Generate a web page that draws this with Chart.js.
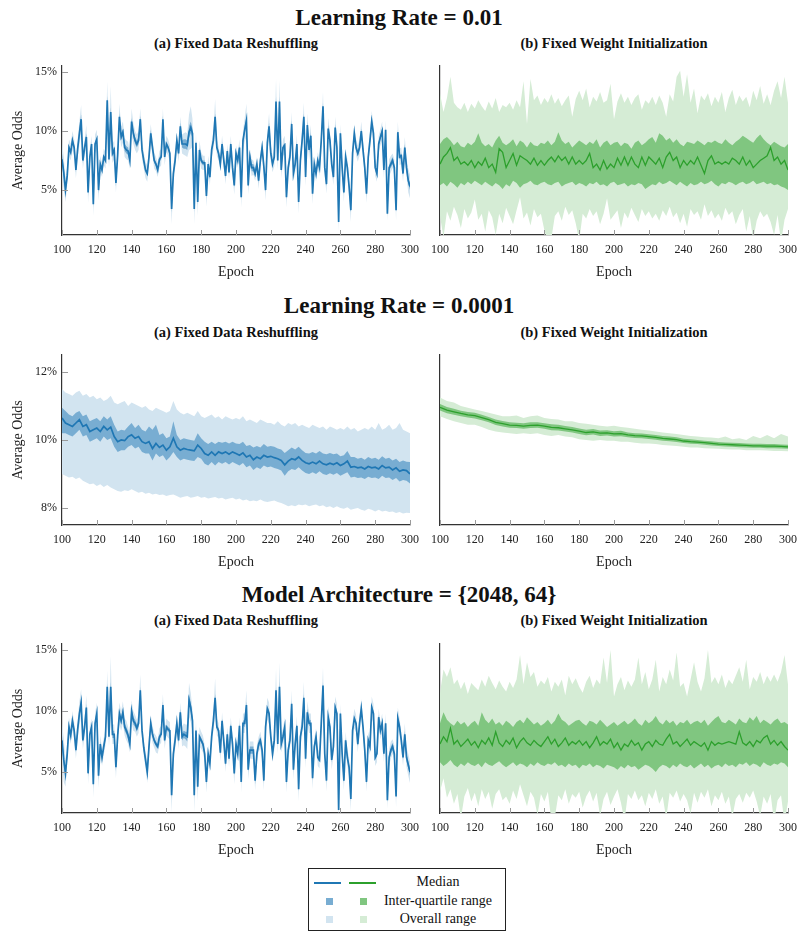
<!DOCTYPE html>
<html>
<head>
<meta charset="utf-8">
<script src="https://cdn.jsdelivr.net/npm/chart.js@4.4.0/dist/chart.umd.min.js"></script>
<style>
  body { margin: 0; background: #fff; width: 798px; height: 932px; position: relative; overflow: hidden;
         font-family: 'Liberation Serif', 'DejaVu Serif', serif; color: #111; }
  .title { position: absolute; left: 0; width: 798px; text-align: center; font-weight: bold; font-size: 23px; line-height: 23px; }
  .sub { position: absolute; width: 348px; text-align: center; font-weight: bold; font-size: 14.5px; line-height: 15px; }
  canvas { position: absolute; }
  #legend { position: absolute; left: 308px; top: 868px; width: 196px; height: 61px; border: 1px solid #222; }
  #legend div { position: absolute; }
  .ltxt { left: 49px; width: 160px; text-align: center; font-size: 14px; line-height: 16px; }
  .sw { width: 7px; height: 7px; }
</style>
</head>
<body>

<div class="title" style="top:6px">Learning Rate = 0.01</div>
<div class="sub" style="left:62px;top:36px">(a) Fixed Data Reshuffling</div>
<div class="sub" style="left:440px;top:36px">(b) Fixed Weight Initialization</div>
<canvas id="c1a" width="425" height="230" style="left:0;top:56px"></canvas>
<canvas id="c1b" width="376" height="230" style="left:425px;top:56px"></canvas>

<div class="title" style="top:294px">Learning Rate = 0.0001</div>
<div class="sub" style="left:62px;top:325px">(a) Fixed Data Reshuffling</div>
<div class="sub" style="left:440px;top:325px">(b) Fixed Weight Initialization</div>
<canvas id="c2a" width="425" height="231" style="left:0;top:345px"></canvas>
<canvas id="c2b" width="376" height="231" style="left:425px;top:345px"></canvas>

<div class="title" style="top:583px">Model Architecture = {2048, 64}</div>
<div class="sub" style="left:62px;top:613px">(a) Fixed Data Reshuffling</div>
<div class="sub" style="left:440px;top:613px">(b) Fixed Weight Initialization</div>
<canvas id="c3a" width="425" height="230" style="left:0;top:634px"></canvas>
<canvas id="c3b" width="376" height="230" style="left:425px;top:634px"></canvas>

<div id="legend">
  <div style="left:5px;top:13px;width:27px;height:1.5px;background:#1f77b4"></div>
  <div style="left:40px;top:13px;width:27px;height:1.5px;background:#2ca02c"></div>
  <div class="sw" style="left:17px;top:29px;background:#78add2"></div>
  <div class="sw" style="left:51px;top:29px;background:#80c680"></div>
  <div class="sw" style="left:17px;top:47px;background:#d2e4f0"></div>
  <div class="sw" style="left:51px;top:47px;background:#d5ecd5"></div>
  <div class="ltxt" style="top:5px">Median</div>
  <div class="ltxt" style="top:24px">Inter-quartile range</div>
  <div class="ltxt" style="top:42px">Overall range</div>
</div>

<script>
const xTicks = [100, 120, 140, 160, 180, 200, 220, 240, 260, 280, 300];
const yTicksWide = [5, 10, 15];
const yTicksNarrow = [8, 10, 12];

// Learning rate 0.01, fixed data reshuffling (every epoch)
const a1Median = [
  7.6, 6.5, 5.0, 6.2, 8.6, 8.2, 9.2, 8.6, 6.7, 8.5,
  9.8, 11.0, 7.5, 8.6, 9.5, 4.8, 7.8, 8.9, 3.8, 8.9,
  9.3, 5.0, 7.2, 6.7, 7.8, 7.5, 12.6, 7.6, 11.6, 8.1,
  8.4, 5.6, 8.0, 11.2, 9.5, 9.9, 8.6, 8.4, 8.3, 7.5,
  10.8, 9.8, 9.2, 8.9, 9.2, 11.0, 8.4, 7.5, 6.7, 6.4,
  7.8, 9.8, 8.6, 7.5, 7.2, 6.7, 7.6, 7.8, 11.0, 7.8,
  8.9, 8.6, 8.1, 3.4, 6.4, 7.5, 9.2, 8.1, 10.4, 8.9,
  8.9, 8.9, 8.8, 9.9, 10.3, 9.8, 3.4, 9.0, 4.0, 8.4,
  7.5, 7.3, 7.3, 4.5, 7.2, 6.1, 8.4, 9.2, 11.2, 8.6,
  8.1, 7.2, 8.9, 7.5, 6.2, 8.3, 6.5, 8.9, 6.9, 5.4,
  8.1, 7.5, 8.6, 4.4, 9.2, 10.1, 10.9, 5.4, 7.8, 6.9,
  6.9, 6.4, 7.2, 5.8, 7.5, 8.6, 7.0, 5.0, 9.0, 10.4,
  8.1, 7.2, 7.8, 12.5, 7.5, 12.5, 6.7, 8.6, 8.8, 4.4,
  6.9, 7.8, 10.6, 6.4, 7.2, 8.9, 4.0, 7.5, 9.2, 11.2,
  6.1, 10.5, 8.4, 9.6, 4.7, 7.2, 6.4, 7.5, 6.9, 9.2,
  12.1, 6.9, 5.5, 10.2, 9.2, 7.2, 6.1, 10.3, 8.6, 2.3,
  9.8, 6.9, 4.8, 7.8, 6.9, 5.3, 3.3, 8.1, 9.8, 8.6,
  8.1, 8.6, 10.0, 8.4, 6.9, 4.7, 7.8, 9.2, 10.8, 9.8,
  6.9, 6.4, 8.9, 9.5, 10.0, 6.7, 10.1, 3.0, 6.9, 7.2,
  7.5, 6.9, 3.3, 9.9, 7.8, 7.9, 6.4, 8.6, 6.9, 5.8,
  5.3
];
const a1IqrHalf = [
  0.5, 0.4, 0.3, 0.3, 0.2, 0.2, 0.3, 0.2, 0.2, 0.3,
  0.3, 0.4, 0.2, 0.2, 0.3, 0.3, 0.2, 0.2, 0.3, 0.2,
  0.2, 0.3, 0.2, 0.2, 0.2, 0.2, 0.4, 0.3, 0.4, 0.3,
  0.3, 0.3, 0.3, 0.3, 0.3, 0.3, 0.3, 0.3, 0.3, 0.2,
  0.3, 0.3, 0.3, 0.3, 0.3, 0.3, 0.2, 0.2, 0.2, 0.2,
  0.2, 0.3, 0.2, 0.2, 0.2, 0.2, 0.2, 0.2, 0.3, 0.2,
  0.2, 0.2, 0.2, 0.3, 0.2, 0.2, 0.2, 0.2, 0.3, 0.3,
  0.4, 0.4, 0.4, 0.5, 0.5, 0.4, 0.3, 0.3, 0.3, 0.2,
  0.2, 0.2, 0.2, 0.2, 0.2, 0.2, 0.2, 0.2, 0.3, 0.2,
  0.2, 0.2, 0.2, 0.2, 0.2, 0.2, 0.2, 0.2, 0.2, 0.2,
  0.2, 0.2, 0.2, 0.2, 0.2, 0.3, 0.3, 0.2, 0.3, 0.3,
  0.3, 0.3, 0.2, 0.2, 0.2, 0.2, 0.2, 0.2, 0.2, 0.3,
  0.2, 0.2, 0.2, 0.4, 0.2, 0.4, 0.2, 0.2, 0.2, 0.2,
  0.2, 0.2, 0.3, 0.2, 0.2, 0.2, 0.2, 0.2, 0.2, 0.3,
  0.2, 0.3, 0.2, 0.3, 0.2, 0.2, 0.2, 0.2, 0.2, 0.2,
  0.3, 0.2, 0.2, 0.3, 0.2, 0.2, 0.2, 0.3, 0.2, 0.2,
  0.2, 0.2, 0.2, 0.2, 0.2, 0.2, 0.2, 0.2, 0.2, 0.2,
  0.2, 0.2, 0.2, 0.2, 0.2, 0.2, 0.2, 0.2, 0.3, 0.2,
  0.2, 0.2, 0.2, 0.2, 0.2, 0.2, 0.2, 0.2, 0.2, 0.3,
  0.3, 0.2, 0.2, 0.2, 0.2, 0.2, 0.2, 0.3, 0.3, 0.3,
  0.3
];
const a1RangeHalf = [
  1.5, 1.3, 1.0, 0.8, 0.7, 0.7, 0.8, 0.7, 0.7, 0.8,
  1.0, 1.2, 0.7, 0.7, 1.0, 0.9, 0.7, 0.7, 1.0, 0.8,
  0.8, 0.9, 0.7, 0.6, 0.7, 0.7, 1.6, 0.8, 2.2, 0.8,
  0.8, 0.8, 0.8, 1.1, 0.9, 0.9, 0.8, 0.8, 0.8, 0.7,
  1.1, 0.9, 0.8, 0.8, 0.8, 0.9, 0.8, 0.7, 0.7, 0.7,
  0.7, 0.8, 0.7, 0.7, 0.6, 0.6, 0.7, 0.7, 0.9, 0.7,
  0.7, 0.7, 0.7, 1.3, 0.8, 0.7, 0.7, 0.7, 0.8, 0.8,
  0.9, 1.0, 1.0, 1.5, 1.8, 1.2, 1.3, 0.8, 1.2, 0.8,
  0.7, 0.6, 0.6, 0.9, 0.7, 0.7, 0.7, 0.8, 1.5, 0.7,
  0.6, 0.6, 0.7, 0.6, 0.7, 0.6, 0.6, 0.7, 0.6, 0.8,
  0.7, 0.6, 0.7, 0.9, 0.8, 1.0, 1.4, 0.8, 0.7, 0.7,
  0.6, 0.6, 0.6, 0.7, 0.6, 0.6, 0.7, 0.9, 0.8, 1.1,
  0.7, 0.7, 0.8, 1.9, 0.8, 1.8, 0.7, 0.7, 0.8, 0.9,
  0.7, 0.7, 1.0, 0.7, 0.7, 0.8, 1.0, 0.7, 0.8, 1.2,
  0.8, 1.0, 0.8, 0.9, 0.9, 0.7, 0.7, 0.7, 0.7, 0.8,
  1.2, 0.7, 0.8, 0.9, 0.7, 0.7, 0.7, 0.9, 0.8, 0.8,
  0.8, 0.7, 0.8, 0.7, 0.7, 0.8, 1.0, 0.7, 0.8, 0.7,
  0.7, 0.7, 0.8, 0.7, 0.7, 0.8, 0.7, 0.7, 0.9, 0.8,
  0.7, 0.7, 0.7, 0.7, 0.8, 0.7, 0.8, 0.6, 0.7, 0.7,
  0.6, 0.7, 0.9, 0.9, 0.7, 0.7, 0.7, 0.9, 0.8, 1.0,
  1.0
];

// Learning rate 0.01, fixed weight initialization (every 2 epochs)
const b1Median = [
  7.2, 7.8, 8.1, 8.6, 7.5, 7.8, 7.2, 7.4, 7.1, 7.5,
  6.9, 7.4, 7.1, 7.7, 6.9, 7.2, 6.5, 8.5, 8.2, 6.9,
  7.5, 8.1, 7.1, 7.9, 7.7, 7.5, 7.2, 7.7, 7.1, 7.5,
  7.1, 7.5, 7.8, 7.4, 7.9, 7.5, 7.8, 7.2, 7.8, 7.2,
  7.5, 7.2, 7.5, 8.1, 6.9, 7.2, 6.7, 7.5, 6.8, 7.2,
  6.9, 7.7, 7.1, 7.8, 7.1, 7.8, 7.2, 6.9, 7.8, 7.1,
  7.8, 7.5, 7.2, 7.7, 6.9, 7.8, 8.2, 7.5, 7.8, 6.9,
  7.5, 7.1, 7.5, 7.2, 7.8, 7.1, 6.4, 7.5, 7.9, 7.2,
  7.4, 7.2, 7.4, 7.2, 7.7, 7.5, 7.2, 7.8, 7.1, 7.5,
  6.9, 7.2, 7.5, 7.7, 7.9, 8.6, 7.5, 7.8, 7.2, 7.5,
  6.7
];
const b1Q3 = [
  8.9, 9.3, 9.5, 9.2, 8.8, 9.1, 8.7, 8.6, 9.0, 8.8,
  9.1, 9.8, 9.0, 8.7, 8.9, 8.6, 9.2, 9.6, 9.0, 8.8,
  9.0, 9.3, 8.7, 9.2, 9.0, 8.6, 9.1, 8.8, 8.7, 9.0,
  8.9, 9.2, 8.8, 9.1, 9.9, 9.2, 8.9, 9.1, 8.6, 8.9,
  9.2, 9.0, 8.8, 9.1, 8.9, 9.3, 8.6, 9.0, 9.2, 8.8,
  9.0, 9.1, 8.7, 9.0, 8.9, 8.5, 9.0, 9.2, 8.8, 9.0,
  9.3, 9.5, 9.0, 9.8, 9.6, 9.2, 9.4, 9.0, 9.3, 8.9,
  8.7, 9.1, 9.0, 8.9, 9.2, 9.0, 8.8, 9.1, 9.0, 9.2,
  9.0, 8.9, 9.3, 9.0, 8.8, 9.1, 9.3, 9.6, 9.4, 9.2,
  9.0, 9.4, 9.7, 9.3, 9.0, 8.8, 9.1, 8.9, 8.7, 8.6,
  8.9
];
const b1Q1 = [
  5.4, 5.6, 5.3, 5.7, 5.5, 5.2, 5.6, 5.4, 5.7, 5.5,
  5.8, 5.6, 5.4, 5.7, 5.5, 5.3, 5.6, 5.4, 5.1, 5.5,
  5.3, 5.8, 5.6, 5.2, 5.5, 5.6, 5.8, 5.5, 5.4, 5.6,
  5.7, 5.5, 5.4, 5.6, 5.7, 5.3, 5.5, 5.6, 5.7, 5.4,
  5.6, 5.5, 5.3, 5.6, 5.5, 5.7, 5.4, 5.5, 5.3, 5.6,
  5.7, 5.4, 5.5, 5.6, 5.3, 5.5, 5.4, 5.6, 5.5, 5.1,
  5.3, 5.5, 5.4, 5.7, 5.5, 5.6, 5.8, 5.6, 5.4, 5.7,
  5.5, 5.3, 5.6, 5.4, 5.5, 5.7, 5.5, 5.6, 5.8, 5.5,
  5.3, 5.6, 5.5, 5.7, 5.6, 5.4, 5.6, 5.7, 5.5, 5.6,
  5.8, 5.5, 5.6, 5.7, 5.5, 5.6, 5.4, 5.5, 5.3, 5.2,
  5.0
];
const b1Max = [
  13.2, 11.6, 12.8, 14.6, 12.4, 12.0, 11.8, 12.4, 11.6, 12.3,
  11.9, 12.6, 12.1, 11.7, 12.5, 11.9, 12.8, 11.6, 12.2, 12.0,
  12.4, 11.8, 12.6, 12.0, 14.2, 10.6, 14.4, 12.6, 13.0, 12.2,
  12.8, 12.4, 13.1, 12.3, 12.8, 12.1, 12.6, 13.0, 11.2, 12.7,
  13.4, 12.6, 13.6, 12.0, 12.9, 12.5, 13.3, 12.4, 12.6, 14.0,
  11.0, 12.5, 13.2, 12.4, 12.9, 12.2, 12.8, 13.1, 11.8, 12.6,
  12.3, 12.9, 12.2, 13.0, 12.4, 11.2, 13.1, 12.5, 14.6, 15.1,
  12.9, 14.8, 12.4, 13.6, 11.5, 13.0, 12.6, 13.2, 12.1, 12.9,
  12.4, 13.3, 11.6, 12.8, 13.5, 12.2, 13.0, 12.5, 12.9, 12.0,
  13.4, 12.6, 13.8, 12.3, 13.1, 12.2, 13.4, 14.2, 12.8, 14.6,
  12.4
];
const b1Min = [
  2.8, 1.0, 3.2, 2.4, 3.6, 2.9, 1.8, 3.4, 2.6, 3.1,
  4.2, 2.5, 3.0, 1.5, 3.3, 2.7, 1.2, 3.0, 2.2, 3.5,
  2.8, 2.1, 3.3, 4.4, 2.6, 3.1, 2.0, 3.4, 2.7, 3.0,
  1.6, 0.6, 0.9, 2.8, 3.2, 2.4, 3.6, 2.9, 3.3, 2.2,
  0.7, 3.0, 2.6, 3.4, 2.8, 3.2, 2.1, 3.0, 4.3, 2.5,
  2.9, 3.3, 1.8, 3.1, 2.6, 3.5, 2.9, 2.3, 3.4, 2.8,
  3.2, 2.6, 3.0, 2.4, 3.3, 2.8, 3.6, 2.7, 3.1, 2.2,
  3.0, 1.9, 3.4, 2.9, 3.2, 2.5, 3.8, 2.8, 3.3, 2.6,
  3.0, 2.4, 3.5, 2.9, 3.2, 2.1, 2.9, 3.4, 1.5, 2.8,
  0.8, 2.4, 3.2, 2.7, 3.0, 2.3, 1.2, 2.9, 0.6, 2.5,
  3.4
];

// Learning rate 0.0001, fixed data reshuffling (every 2 epochs)
const a2Median = [
  10.65, 10.5, 10.45, 10.4, 10.5, 10.6, 10.4, 10.45, 10.25, 10.3,
  10.35, 10.25, 10.4, 10.3, 10.38, 10.1, 9.95, 10.0, 9.98, 10.1,
  10.15, 10.05, 10.1, 9.95, 9.9, 9.95, 9.75, 9.9, 9.78, 9.85,
  9.7, 9.8, 10.05, 9.8, 9.7, 9.75, 9.72, 9.7, 9.68, 9.85,
  9.75, 9.6, 9.55, 9.65, 9.55, 9.65, 9.6, 9.65, 9.58, 9.65,
  9.6, 9.55, 9.62, 9.5, 9.55, 9.42, 9.5, 9.45, 9.55, 9.5,
  9.52, 9.48, 9.45, 9.4, 9.27, 9.38, 9.45, 9.42, 9.5, 9.4,
  9.33, 9.3, 9.35, 9.3, 9.38, 9.3, 9.27, 9.32, 9.28, 9.33,
  9.25, 9.3, 9.38, 9.2, 9.22, 9.18, 9.2, 9.15, 9.22, 9.18,
  9.2, 9.15, 9.25, 9.18, 9.2, 9.12, 9.18, 9.08, 9.12, 9.1,
  9.0
];
const a2Q3 = [
  10.95, 10.85, 10.75, 10.7, 10.8, 10.85, 10.7, 10.75, 10.55, 10.6,
  10.65, 10.55, 10.7, 10.6, 10.7, 10.45, 10.25, 10.3, 10.28, 10.4,
  10.5, 10.35, 10.45, 10.3, 10.25, 10.4, 10.3, 10.45, 10.15, 10.2,
  10.05, 10.1, 10.55, 10.15, 10.0, 10.05, 10.02, 10.0, 9.98, 10.2,
  10.05, 9.95, 9.88, 9.95, 9.88, 9.95, 9.92, 9.95, 9.9, 9.95,
  9.9, 9.88, 9.95, 9.82, 9.85, 9.78, 9.82, 9.78, 9.88, 9.8,
  9.82, 9.8, 9.75, 9.72, 9.62, 9.7, 9.78, 9.72, 9.8, 9.7,
  9.62, 9.6, 9.65, 9.6, 9.68, 9.6, 9.58, 9.62, 9.58, 9.6,
  9.52, 9.55, 9.68, 9.5, 9.5, 9.45, 9.48, 9.42, 9.5, 9.45,
  9.48, 9.42, 9.52, 9.45, 9.48, 9.4, 9.45, 9.35, 9.4, 9.36,
  9.35
];
const a2Q1 = [
  10.2, 10.2, 10.15, 10.1, 10.2, 10.3, 10.1, 10.15, 9.95, 10.0,
  10.05, 9.95, 10.1, 10.0, 10.05, 9.8, 9.65, 9.7, 9.7, 9.8,
  9.85, 9.75, 9.8, 9.65, 9.6, 9.6, 9.4, 9.6, 9.5, 9.55,
  9.4, 9.5, 9.65, 9.5, 9.4, 9.45, 9.42, 9.4, 9.38, 9.5,
  9.45, 9.3, 9.25, 9.35, 9.25, 9.35, 9.3, 9.35, 9.28, 9.35,
  9.3, 9.25, 9.32, 9.2, 9.25, 9.12, 9.2, 9.15, 9.25, 9.2,
  9.22, 9.18, 9.15, 9.1, 8.95, 9.08, 9.15, 9.12, 9.2, 9.1,
  9.03, 9.0, 9.05, 9.0, 9.08, 9.0, 8.97, 9.02, 8.98, 9.03,
  8.95, 9.0, 9.05, 8.9, 8.92, 8.88, 8.9, 8.85, 8.92, 8.88,
  8.9, 8.85, 8.95, 8.88, 8.9, 8.82, 8.88, 8.78, 8.82, 8.8,
  8.72
];
const a2Max = [
  11.5, 11.4, 11.35, 11.3, 11.4, 11.45, 11.3, 11.35, 11.25, 11.3,
  11.2, 11.25, 11.15, 11.2, 11.3, 11.1, 11.05, 11.1, 11.15, 11.0,
  11.1, 11.05, 11.0, 10.95, 11.0, 10.9, 10.85, 10.95, 10.9, 10.85,
  10.8, 10.85, 11.15, 10.9, 10.8, 10.75, 10.8, 10.75, 10.7, 10.85,
  10.7, 10.65, 10.7, 10.75, 10.65, 10.7, 10.6, 10.7, 10.65, 10.6,
  10.65, 10.6, 10.7, 10.55, 10.6, 10.55, 10.5, 10.6, 10.55, 10.5,
  10.5, 10.45, 10.55, 10.45, 10.4, 10.5, 10.45, 10.5, 10.4, 10.45,
  10.4, 10.35, 10.45, 10.4, 10.35, 10.4, 10.3, 10.4, 10.35, 10.3,
  10.35, 10.3, 10.4, 10.3, 10.35, 10.25, 10.3, 10.35, 10.3, 10.4,
  10.3, 10.5, 10.3, 10.35, 10.45, 10.3, 10.35, 10.5, 10.3, 10.25,
  10.2
];
const a2Min = [
  9.0, 8.95, 8.9, 8.92, 8.85, 8.9, 8.8, 8.75, 8.7, 8.72,
  8.65, 8.7, 8.62, 8.68, 8.6, 8.55, 8.5, 8.48, 8.52, 8.5,
  8.55, 8.5, 8.45, 8.48, 8.42, 8.45, 8.4, 8.42, 8.38, 8.4,
  8.35, 8.38, 8.4, 8.35, 8.3, 8.33, 8.35, 8.3, 8.32, 8.35,
  8.3, 8.32, 8.28, 8.3, 8.32, 8.28, 8.3, 8.25, 8.28, 8.3,
  8.25, 8.28, 8.22, 8.25, 8.2, 8.22, 8.2, 8.25, 8.2, 8.18,
  8.2, 8.22, 8.18, 8.15, 8.1, 8.05, 8.08, 8.05, 8.1, 8.08,
  8.1, 8.05, 8.08, 8.1, 8.05, 8.08, 8.02, 8.05, 8.0, 8.05,
  8.0, 7.98, 8.02, 7.95, 7.98, 8.0, 7.95, 7.92, 7.98, 7.95,
  7.9, 7.95, 7.9, 7.92, 7.88, 7.9, 7.85, 7.88, 7.84, 7.86,
  7.85
];

// Learning rate 0.0001, fixed weight initialization (every 4 epochs)
const b2Median = [
  10.96, 10.88, 10.83, 10.78, 10.74, 10.72, 10.66, 10.6, 10.52, 10.48,
  10.44, 10.43, 10.41, 10.43, 10.44, 10.41, 10.37, 10.36, 10.33, 10.3,
  10.26, 10.22, 10.24, 10.2, 10.21, 10.18, 10.19, 10.15, 10.13, 10.12,
  10.1, 10.08, 10.05, 10.03, 10.01, 9.97, 9.95, 9.94, 9.92, 9.9,
  9.88, 9.87, 9.86, 9.85, 9.84, 9.83, 9.83, 9.82, 9.82, 9.81,
  9.8
];
const b2Q3 = [
  11.06, 10.97, 10.92, 10.86, 10.82, 10.8, 10.74, 10.68, 10.6, 10.56,
  10.52, 10.51, 10.49, 10.52, 10.52, 10.49, 10.46, 10.45, 10.41, 10.38,
  10.34, 10.3, 10.32, 10.28, 10.29, 10.26, 10.27, 10.22, 10.2, 10.19,
  10.17, 10.15, 10.12, 10.1, 10.08, 10.04, 10.02, 10.0, 9.98, 9.96,
  9.94, 9.93, 9.92, 9.91, 9.9, 9.89, 9.89, 9.88, 9.88, 9.87,
  9.86
];
const b2Q1 = [
  10.87, 10.79, 10.74, 10.7, 10.66, 10.63, 10.58, 10.52, 10.44, 10.4,
  10.36, 10.35, 10.33, 10.35, 10.36, 10.33, 10.29, 10.28, 10.25, 10.22,
  10.18, 10.14, 10.16, 10.12, 10.13, 10.1, 10.11, 10.08, 10.06, 10.05,
  10.03, 10.01, 9.98, 9.96, 9.94, 9.91, 9.89, 9.88, 9.86, 9.84,
  9.82, 9.81, 9.8, 9.79, 9.78, 9.77, 9.77, 9.76, 9.76, 9.75,
  9.74
];
const b2Max = [
  11.25, 11.15, 11.1, 11.0, 10.95, 10.9, 10.85, 10.8, 10.75, 10.7,
  10.7, 10.72, 10.65, 10.7, 10.72, 10.65, 10.62, 10.6, 10.55, 10.55,
  10.5, 10.48, 10.45, 10.42, 10.4, 10.42, 10.38, 10.36, 10.33, 10.3,
  10.28, 10.25, 10.22, 10.2, 10.18, 10.15, 10.12, 10.1, 10.08, 10.07,
  10.05, 10.1, 10.02, 10.05, 10.0, 10.12, 10.05, 10.15, 10.05, 10.18,
  10.1
];
const b2Min = [
  10.7, 10.62, 10.55, 10.5, 10.45, 10.45, 10.38, 10.3, 10.25, 10.22,
  10.2, 10.18, 10.2, 10.18, 10.2, 10.15, 10.12, 10.15, 10.1, 10.08,
  10.02, 10.0, 9.98, 10.0, 9.98, 9.98, 9.95, 9.95, 9.92, 9.9,
  9.9, 9.88, 9.85, 9.84, 9.82, 9.8, 9.78, 9.78, 9.76, 9.75,
  9.74, 9.73, 9.72, 9.72, 9.7, 9.7, 9.7, 9.69, 9.68, 9.68,
  9.67
];

// Model architecture {2048, 64}, fixed data reshuffling (every epoch)
const a3Median = [
  7.6, 6.0, 4.9, 6.5, 8.7, 8.0, 9.2, 8.4, 6.8, 8.5,
  9.8, 10.7, 7.6, 8.7, 10.3, 4.9, 8.1, 8.7, 4.0, 9.0,
  9.8, 4.7, 7.3, 6.2, 7.1, 7.9, 12.0, 7.9, 12.0, 8.1,
  8.1, 5.4, 8.0, 9.8, 9.2, 9.9, 8.7, 8.4, 8.0, 7.3,
  10.0, 9.2, 9.0, 8.6, 9.0, 11.7, 8.4, 7.0, 6.0, 5.0,
  7.1, 9.0, 8.1, 7.6, 7.3, 7.1, 7.9, 8.1, 10.5, 7.6,
  8.7, 8.5, 8.4, 3.1, 6.5, 7.6, 9.0, 7.6, 9.9, 7.9,
  8.1, 8.0, 7.9, 10.9, 10.3, 9.2, 3.1, 8.4, 3.8, 7.9,
  7.6, 7.3, 6.5, 4.2, 6.5, 5.7, 7.9, 9.2, 11.1, 8.7,
  8.4, 6.6, 9.2, 7.5, 5.7, 8.1, 6.1, 8.8, 7.3, 4.9,
  7.3, 6.5, 8.8, 4.2, 9.0, 9.0, 10.5, 5.2, 6.8, 6.8,
  6.8, 4.3, 6.5, 7.3, 7.6, 6.8, 4.3, 8.7, 10.2, 9.8,
  7.9, 6.5, 7.6, 11.7, 7.3, 12.0, 7.3, 7.9, 8.7, 4.2,
  6.8, 7.6, 10.6, 5.2, 7.3, 8.8, 3.6, 7.9, 8.7, 11.1,
  6.1, 9.9, 9.0, 9.0, 4.5, 7.1, 7.9, 6.2, 6.0, 9.0,
  12.1, 6.5, 4.3, 9.5, 8.7, 6.0, 7.1, 10.3, 9.8, 1.9,
  9.8, 6.5, 4.3, 7.6, 6.2, 5.4, 2.8, 8.4, 9.4, 9.0,
  7.3, 9.0, 10.2, 8.7, 6.8, 4.2, 7.6, 7.1, 10.3, 9.8,
  6.2, 6.5, 9.5, 8.4, 9.0, 6.5, 9.0, 2.7, 6.2, 6.8,
  7.1, 6.5, 3.0, 9.4, 8.7, 7.6, 6.2, 8.1, 6.2, 5.6,
  5.0
];
const a3IqrHalf = [
  0.4, 0.4, 0.3, 0.3, 0.2, 0.2, 0.3, 0.2, 0.2, 0.3,
  0.3, 0.3, 0.2, 0.2, 0.3, 0.3, 0.2, 0.2, 0.3, 0.2,
  0.3, 0.3, 0.2, 0.2, 0.2, 0.2, 0.3, 0.3, 0.4, 0.3,
  0.3, 0.3, 0.3, 0.3, 0.3, 0.3, 0.3, 0.3, 0.3, 0.2,
  0.3, 0.3, 0.3, 0.3, 0.3, 0.3, 0.2, 0.3, 0.2, 0.3,
  0.2, 0.3, 0.2, 0.2, 0.2, 0.2, 0.2, 0.2, 0.3, 0.2,
  0.2, 0.2, 0.2, 0.3, 0.2, 0.2, 0.3, 0.2, 0.3, 0.3,
  0.3, 0.3, 0.4, 0.5, 0.4, 0.3, 0.3, 0.3, 0.3, 0.2,
  0.2, 0.2, 0.2, 0.2, 0.2, 0.2, 0.2, 0.2, 0.3, 0.2,
  0.2, 0.2, 0.2, 0.2, 0.2, 0.2, 0.2, 0.2, 0.2, 0.2,
  0.2, 0.2, 0.2, 0.2, 0.2, 0.3, 0.3, 0.2, 0.3, 0.3,
  0.3, 0.3, 0.2, 0.3, 0.3, 0.2, 0.2, 0.2, 0.2, 0.3,
  0.2, 0.2, 0.2, 0.3, 0.2, 0.4, 0.2, 0.2, 0.2, 0.2,
  0.2, 0.2, 0.3, 0.2, 0.2, 0.2, 0.2, 0.2, 0.2, 0.3,
  0.2, 0.3, 0.2, 0.3, 0.2, 0.2, 0.2, 0.2, 0.2, 0.2,
  0.3, 0.2, 0.2, 0.3, 0.2, 0.2, 0.2, 0.3, 0.2, 0.2,
  0.2, 0.2, 0.2, 0.2, 0.2, 0.2, 0.2, 0.2, 0.2, 0.2,
  0.2, 0.2, 0.2, 0.2, 0.2, 0.2, 0.2, 0.2, 0.3, 0.2,
  0.2, 0.2, 0.2, 0.2, 0.2, 0.2, 0.2, 0.2, 0.2, 0.3,
  0.3, 0.2, 0.2, 0.2, 0.2, 0.2, 0.2, 0.3, 0.3, 0.3,
  0.3
];
const a3RangeHalf = [
  1.4, 1.8, 1.1, 0.9, 0.8, 0.7, 0.8, 0.7, 0.7, 0.8,
  1.0, 1.1, 0.7, 0.8, 1.0, 0.9, 0.7, 0.7, 1.1, 0.8,
  0.9, 1.0, 0.7, 0.7, 0.7, 0.7, 1.3, 0.8, 2.5, 0.8,
  0.8, 0.9, 0.8, 0.9, 0.8, 0.9, 0.7, 0.8, 0.7, 0.7,
  0.9, 0.8, 0.7, 0.7, 0.8, 1.3, 0.7, 0.7, 0.7, 0.9,
  0.8, 0.7, 0.7, 0.6, 0.7, 0.6, 0.7, 0.7, 0.9, 0.7,
  0.7, 0.7, 0.7, 1.4, 0.8, 0.7, 0.8, 0.7, 0.8, 0.8,
  0.9, 0.9, 1.0, 1.4, 1.2, 0.9, 1.4, 0.8, 1.2, 0.8,
  0.7, 0.7, 0.7, 0.9, 0.7, 0.7, 0.7, 0.8, 1.6, 0.7,
  0.6, 0.7, 0.7, 0.6, 0.7, 0.6, 0.7, 0.7, 0.7, 0.9,
  0.7, 0.6, 0.7, 0.9, 0.8, 0.8, 1.2, 0.8, 0.7, 0.7,
  0.7, 0.8, 0.7, 0.6, 0.7, 0.7, 0.8, 0.7, 0.9, 0.9,
  0.7, 0.7, 0.8, 1.8, 0.8, 2.0, 0.7, 0.7, 0.8, 0.9,
  0.7, 0.7, 1.1, 0.8, 0.7, 0.8, 1.0, 0.7, 0.8, 1.3,
  0.8, 0.9, 0.8, 0.8, 0.9, 0.7, 0.7, 0.7, 0.7, 0.8,
  1.5, 0.7, 0.9, 0.9, 0.7, 0.8, 0.7, 0.9, 0.8, 0.9,
  0.8, 0.7, 0.8, 0.7, 0.7, 0.8, 1.0, 0.7, 0.8, 0.7,
  0.7, 0.7, 0.8, 0.7, 0.7, 0.8, 0.7, 0.7, 0.9, 0.8,
  0.7, 0.7, 0.7, 0.7, 0.8, 0.7, 0.8, 0.7, 0.7, 0.7,
  0.6, 0.7, 0.9, 0.9, 0.7, 0.7, 0.7, 0.9, 0.8, 0.9,
  0.9
];

// Model architecture {2048, 64}, fixed weight initialization (every 2 epochs)
const b3Median = [
  7.3, 7.9, 7.5, 8.6, 7.3, 7.6, 7.1, 7.4, 7.7, 7.2,
  7.5, 7.0, 7.6, 7.3, 7.8, 7.2, 8.3, 7.4, 7.1, 7.6,
  7.3, 7.8, 7.0, 7.5, 7.8, 7.4, 7.2, 7.6, 7.3, 7.1,
  7.5, 7.9, 7.3, 7.7, 7.1, 7.4, 7.8, 7.2, 7.5, 7.3,
  7.6, 7.2, 7.5, 7.0, 7.4, 7.9, 7.2, 7.5, 7.3, 7.7,
  7.0, 7.4, 6.8, 7.3, 7.1, 7.6, 7.2, 7.4, 6.8, 7.3,
  7.5, 7.1, 7.6, 7.3, 7.2, 7.7, 8.1, 7.3, 7.5, 7.1,
  7.4, 7.7, 7.2, 7.5, 7.3, 7.1, 7.4, 6.8, 7.5, 7.2,
  7.4, 7.3, 7.4, 7.5, 7.4, 7.3, 8.3, 7.4, 7.2, 7.5,
  7.1, 7.6, 7.4, 7.8, 8.0, 7.3, 7.6, 7.2, 7.5, 7.1,
  6.8
];
const b3Q3 = [
  9.0, 9.9, 9.3, 9.0, 8.8, 9.2, 8.9, 9.1, 8.7, 9.0,
  9.2, 8.8, 9.9, 9.3, 9.0, 9.4, 8.9, 9.1, 8.8, 9.2,
  9.0, 8.7, 9.1, 9.3, 9.0, 9.5, 9.2, 8.9, 9.1, 8.8,
  9.0, 9.3, 8.9, 9.2, 9.8, 9.3, 9.1, 8.8, 9.0, 9.2,
  9.3, 9.0, 8.8, 9.2, 9.1, 8.9, 9.3, 9.0, 8.7, 8.9,
  9.1, 8.8, 9.0, 9.2, 8.9, 9.1, 9.4, 9.0, 8.8, 9.3,
  9.0, 9.2, 9.6, 9.1, 8.9, 9.3, 9.0, 9.2, 8.8, 9.1,
  9.0, 9.3, 8.9, 9.1, 9.2, 9.0, 9.3, 8.8, 9.1, 9.4,
  9.6, 9.1, 9.0, 9.3, 9.1, 8.9, 9.4, 9.1, 9.0, 9.5,
  9.2, 9.6, 9.0, 9.3, 9.1, 8.9, 9.2, 9.4, 9.0, 9.1,
  8.9
];
const b3Q1 = [
  5.8, 5.5, 5.7, 6.0, 5.6, 5.4, 5.7, 5.5, 5.8, 5.6,
  5.5, 5.7, 5.4, 5.8, 5.6, 5.5, 5.7, 5.9, 5.6, 5.4,
  5.6, 5.8, 5.5, 5.7, 5.6, 5.4, 5.7, 5.5, 5.8, 5.6,
  5.5, 5.7, 5.6, 5.8, 5.5, 5.6, 5.4, 5.7, 5.5, 5.6,
  5.3, 5.6, 5.5, 5.7, 5.4, 5.6, 5.5, 5.3, 5.6, 5.5,
  5.4, 5.2, 5.5, 5.3, 5.6, 5.4, 5.5, 5.2, 5.4, 5.6,
  5.5, 5.3, 5.0, 5.4, 5.6, 5.5, 5.3, 5.6, 5.4, 5.7,
  5.5, 5.4, 5.6, 5.3, 5.5, 5.7, 5.4, 5.6, 5.3, 5.5,
  5.6, 5.4, 5.7, 5.5, 5.6, 5.4, 5.7, 5.6, 5.8, 5.5,
  5.7, 5.6, 5.4, 5.8, 5.6, 5.5, 5.7, 5.6, 5.8, 5.7,
  5.4
];
const b3Max = [
  11.5, 13.4, 12.8, 13.6, 12.2, 12.6, 11.8, 12.4, 11.4, 12.3,
  12.0, 11.7, 12.6, 12.0, 12.9, 12.3, 11.8, 12.5, 12.0, 11.6,
  12.4, 11.9, 12.6, 14.6, 12.2, 14.0, 12.8, 13.2, 12.0, 12.5,
  12.2, 12.8, 11.6, 12.4, 12.0, 12.6, 11.3, 12.9, 12.2, 12.7,
  12.0, 11.5, 12.4, 12.9, 11.9, 12.6, 12.2, 14.4, 12.3, 15.0,
  11.2, 12.2, 12.8, 11.7, 12.5, 12.0, 12.6, 14.4, 12.2, 13.2,
  11.8, 12.6, 14.2, 11.6, 12.8, 12.2, 13.4, 12.5, 14.8, 12.0,
  12.3, 11.2, 12.6, 14.0, 12.4, 11.6, 12.7, 15.0, 12.3, 12.8,
  12.2, 13.0, 11.9, 12.6, 12.2, 12.9, 13.6, 12.4, 14.2, 11.8,
  12.8, 12.4, 13.2, 12.2, 12.9, 12.4, 13.0, 12.4, 13.2, 14.6,
  12.2
];
const b3Min = [
  3.4, 4.5, 2.9, 3.6, 2.4, 3.2, 1.2, 3.0, 3.7, 2.6,
  3.3, 2.2, 3.6, 2.8, 3.4, 2.0, 3.2, 3.6, 2.7, 3.0,
  2.4, 3.5, 2.8, 4.0, 3.1, 2.2, 3.4, 2.9, 1.5, 3.2,
  2.6, 3.4, 1.0, 1.3, 3.1, 2.7, 3.6, 2.4, 3.2, 2.9,
  3.4, 2.1, 3.0, 3.5, 2.6, 3.3, 1.4, 2.8, 3.4, 2.3,
  3.0, 3.6, 2.5, 1.0, 3.2, 2.8, 3.5, 2.7, 3.1, 2.2,
  3.3, 2.8, 3.6, 2.4, 3.0, 1.2, 3.3, 2.9, 3.5, 2.6,
  3.2, 2.7, 1.6, 3.3, 2.5, 3.4, 2.9, 3.6, 2.2, 3.1,
  2.7, 3.4, 2.4, 3.0, 1.3, 2.8, 3.2, 2.5, 3.3, 2.9,
  3.5, 2.6, 1.4, 3.0, 2.4, 3.2, 0.9, 2.7, 3.1, 0.8,
  2.6
];

const blue = { line: '#1f77b4', iqr: '#78add2', range: '#d2e4f0', width: 1.7 };
const green = { line: '#2ca02c', iqr: '#80c680', range: '#d5ecd5', width: 1.3 };

function epochRange(step) {
  const out = [];
  for (let e = 100; e <= 300; e += step) out.push(e);
  return out;
}
const epochs1 = epochRange(1);
const epochs2 = epochRange(2);
const epochs4 = epochRange(4);

const minus = (a, b) => a.map((v, i) => v - b[i]);
const plus = (a, b) => a.map((v, i) => v + b[i]);

Chart.defaults.font.family = "'Liberation Serif', 'DejaVu Serif', serif";
Chart.defaults.color = '#222';

// short tick marks pointing into the plot, like the original figure
const innerTicks = {
  id: 'innerTicks',
  afterDatasetsDraw(chart, args, opts) {
    const { ctx, chartArea: a, scales: { x, y } } = chart;
    ctx.save();
    ctx.strokeStyle = '#9a9a9a';
    ctx.lineWidth = 1;
    ctx.beginPath();
    xTicks.forEach(v => {
      const px = Math.round(x.getPixelForValue(v)) + 0.5;
      ctx.moveTo(px, a.bottom);
      ctx.lineTo(px, a.bottom - 5);
    });
    (opts.yTicks || []).forEach(v => {
      const py = Math.round(y.getPixelForValue(v)) + 0.5;
      ctx.moveTo(a.left, py);
      ctx.lineTo(a.left + 6, py);
    });
    ctx.stroke();
    ctx.restore();
  }
};

function makePanel(id, cfg) {
  const pts = arr => arr.map((v, i) => ({ x: cfg.epochs[i], y: v }));
  const band = (arr, fillColor, order) => ({
    data: pts(arr), borderWidth: 0, borderColor: 'transparent',
    backgroundColor: fillColor, fill: fillColor ? '+1' : false, order: order
  });
  new Chart(document.getElementById(id), {
    type: 'line',
    data: {
      datasets: [
        { data: pts(cfg.med), borderColor: cfg.colors.line, borderWidth: cfg.colors.width, fill: false, order: 0 },
        band(cfg.q3, cfg.colors.iqr, 1),
        band(cfg.q1, null, 1),
        band(cfg.hi, cfg.colors.range, 2),
        band(cfg.lo, null, 2)
      ]
    },
    plugins: [innerTicks],
    options: {
      responsive: false,
      animation: false,
      events: [],
      elements: { point: { radius: 0 }, line: { tension: 0 } },
      layout: { padding: { top: 10, right: cfg.left ? 15 : 13, left: 0, bottom: 0 } },
      plugins: {
        legend: { display: false },
        tooltip: { enabled: false },
        innerTicks: { yTicks: cfg.left ? cfg.yTicks : [] }
      },
      scales: {
        x: {
          type: 'linear', min: 100, max: 300, z: 1,
          afterBuildTicks: s => { s.ticks = xTicks.map(v => ({ value: v })); },
          afterFit: s => { s.height = 51; s.paddingLeft = 0; s.paddingRight = 0; },
          grid: { display: false, drawTicks: false },
          border: { display: true, color: '#333', width: 1.2 },
          ticks: { font: { size: 12 }, padding: 8, maxRotation: 0, autoSkip: false, color: '#222' },
          title: { display: true, text: 'Epoch', font: { size: 14 }, color: '#222', padding: { top: 4, bottom: 5 } }
        },
        y: {
          min: cfg.yMin, max: cfg.yMax, z: 1,
          afterBuildTicks: s => { s.ticks = cfg.yTicks.map(v => ({ value: v })); },
          afterFit: s => { s.width = cfg.left ? 62 : 15; s.paddingTop = 0; s.paddingBottom = 0; },
          grid: { display: false, drawTicks: false },
          border: { display: true, color: '#333', width: 1.2 },
          ticks: { display: cfg.left, font: { size: 12 }, padding: 5, color: '#222', callback: v => v + '%' },
          title: { display: cfg.left, text: 'Average Odds', font: { size: 14 }, color: '#222', padding: { top: 10, bottom: 0 } }
        }
      }
    }
  });
}

makePanel('c1a', { epochs: epochs1, med: a1Median, q1: minus(a1Median, a1IqrHalf), q3: plus(a1Median, a1IqrHalf),
  lo: minus(a1Median, a1RangeHalf), hi: plus(a1Median, a1RangeHalf), colors: blue, yMin: 1.2, yMax: 15.5, yTicks: yTicksWide, left: true });
makePanel('c1b', { epochs: epochs2, med: b1Median, q1: b1Q1, q3: b1Q3, lo: b1Min, hi: b1Max,
  colors: green, yMin: 1.2, yMax: 15.5, yTicks: yTicksWide, left: false });
makePanel('c2a', { epochs: epochs2, med: a2Median, q1: a2Q1, q3: a2Q3, lo: a2Min, hi: a2Max,
  colors: blue, yMin: 7.5, yMax: 12.5, yTicks: yTicksNarrow, left: true });
makePanel('c2b', { epochs: epochs4, med: b2Median, q1: b2Q1, q3: b2Q3, lo: b2Min, hi: b2Max,
  colors: green, yMin: 7.5, yMax: 12.5, yTicks: yTicksNarrow, left: false });
makePanel('c3a', { epochs: epochs1, med: a3Median, q1: minus(a3Median, a3IqrHalf), q3: plus(a3Median, a3IqrHalf),
  lo: minus(a3Median, a3RangeHalf), hi: plus(a3Median, a3RangeHalf), colors: blue, yMin: 1.65, yMax: 15.5, yTicks: yTicksWide, left: true });
makePanel('c3b', { epochs: epochs2, med: b3Median, q1: b3Q1, q3: b3Q3, lo: b3Min, hi: b3Max,
  colors: green, yMin: 1.65, yMax: 15.5, yTicks: yTicksWide, left: false });
</script>
</body>
</html>
